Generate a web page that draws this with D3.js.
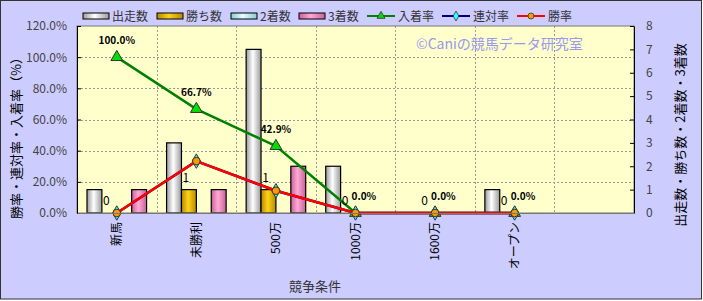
<!DOCTYPE html>
<html>
<head>
<meta charset="utf-8">
<script src="https://cdn.jsdelivr.net/npm/d3@7"></script>
<style>
  body { margin: 0; background: #fff; }
  svg text { font-family: "Noto Sans CJK JP", "DejaVu Sans", sans-serif; }
</style>
</head>
<body>
<svg id="chart"></svg>
<script>
// data
const categories = ["新馬", "未勝利", "500万", "1000万", "1600万", "オープン"];
const runs   = [1, 3, 7, 2, 0, 1];    // 出走数
const wins   = [0, 1, 1, 0, 0, 0];    // 勝ち数
const second = [0, 0, 0, 0, 0, 0];    // 2着数
const third  = [1, 1, 2, 0, 0, 0];    // 3着数
const placeRate = [1.0, 0.667, 0.429, 0, 0, 0];   // 入着率
const rentaiRate = [0, 0.333, 0.143, 0, 0, 0];    // 連対率
const winRate = [0, 0.333, 0.143, 0, 0, 0];       // 勝率
const leftTicks = [0, 0.2, 0.4, 0.6, 0.8, 1.0, 1.2];
const rightTicks = [0, 1, 2, 3, 4, 5, 6, 7, 8];

const W = 703, H = 301;
const plot = {left: 77, right: 634, top: 26, bottom: 213};

const svg = d3.select("#chart").attr("width", W).attr("height", H);

// gradients for the bar look
const defs = svg.append("defs");
function grad(id, edge, mid) {
    const g = defs.append("linearGradient").attr("id", id)
        .attr("x1", "0%").attr("x2", "100%").attr("y1", "0%").attr("y2", "0%");
    g.append("stop").attr("offset", "0%").attr("stop-color", edge);
    g.append("stop").attr("offset", "45%").attr("stop-color", mid);
    g.append("stop").attr("offset", "100%").attr("stop-color", edge);
}
grad("gWhite", "#9a9a9a", "#ffffff");
grad("gGold", "#b58a00", "#ffd21a");
grad("gCyan", "#88cccc", "#e6ffff");
grad("gPink", "#c8609a", "#ffaad4");

// background
svg.append("rect").attr("x", 0.5).attr("y", 0.5).attr("width", W - 2).attr("height", H - 2.5)
    .attr("fill", "#ccccff").attr("stroke", "#333").attr("stroke-width", 1);
svg.append("rect").attr("x", plot.left).attr("y", plot.top)
    .attr("width", plot.right - plot.left).attr("height", plot.bottom - plot.top)
    .attr("fill", "#ffffcc");

const x = d3.scaleBand().domain([...categories, ""]).range([plot.left, plot.right]);
const yL = d3.scaleLinear().domain([0, 1.2]).range([plot.bottom, plot.top]);
const yR = d3.scaleLinear().domain([0, 8]).range([plot.bottom, plot.top]);
const sub = d3.scaleBand().domain([0, 1, 2, 3]).range([10, x.bandwidth() - 10]);
const cx = c => x(c) + x.bandwidth() / 2;

// grid
svg.append("g").selectAll("line").data(leftTicks.slice(1, -1)).join("line")
    .attr("x1", plot.left).attr("x2", plot.right)
    .attr("y1", d => Math.round(yL(d)) + 0.5).attr("y2", d => Math.round(yL(d)) + 0.5)
    .attr("stroke", "#999").attr("stroke-dasharray", "2,2");
svg.append("g").selectAll("line").data(x.domain().slice(1)).join("line")
    .attr("y1", plot.top).attr("y2", plot.bottom)
    .attr("x1", d => Math.round(x(d)) + 0.5).attr("x2", d => Math.round(x(d)) + 0.5)
    .attr("stroke", "#999").attr("stroke-dasharray", "2,2");

// bars
const series = [
    {name: "出走数", values: runs, fill: "url(#gWhite)"},
    {name: "勝ち数", values: wins, fill: "url(#gGold)"},
    {name: "2着数", values: second, fill: "url(#gCyan)"},
    {name: "3着数", values: third, fill: "url(#gPink)"}
];
series.forEach((s, si) => {
    svg.append("g").selectAll("rect")
        .data(categories.map((c, i) => ({c, v: s.values[i]})).filter(d => d.v > 0))
        .join("rect")
        .attr("x", d => x(d.c) + sub(si))
        .attr("width", sub.bandwidth())
        .attr("y", d => yR(d.v))
        .attr("height", d => yR(0) - yR(d.v))
        .attr("fill", s.fill).attr("stroke", "#000").attr("stroke-width", 1.2);
});

// axis frame
svg.append("rect").attr("x", plot.left).attr("y", plot.top)
    .attr("width", plot.right - plot.left).attr("height", plot.bottom - plot.top)
    .attr("fill", "none").attr("stroke", "#777");

// lines
const line = d3.line().x((d, i) => cx(categories[i])).y(d => yL(d));
function drawLine(vals, color, marker, mfill) {
    svg.append("path").datum(vals).attr("d", line)
        .attr("fill", "none").attr("stroke", color).attr("stroke-width", 2.5);
    svg.append("g").selectAll("path").data(vals).join("path")
        .attr("transform", (d, i) => `translate(${cx(categories[i])},${yL(d)})`)
        .attr("d", d3.symbol().type(marker).size(marker === d3.symbolCircle ? 45 : 60))
        .attr("fill", mfill).attr("stroke", "#333").attr("stroke-width", 1);
}
drawLine(placeRate, "#008000", d3.symbolTriangle, "#00dd00");
drawLine(rentaiRate, "#000080", d3.symbolDiamond, "#33ffff");
drawLine(winRate, "#ff0000", d3.symbolCircle, "#ff9900");

// data labels
svg.append("g").selectAll("text").data(placeRate).join("text")
    .attr("x", (d, i) => cx(categories[i]) + (d === 0 ? -4 : 0))
    .attr("y", d => yL(d) - 13)
    .attr("text-anchor", d => d === 0 ? "start" : "middle")
    .attr("font-size", 10).attr("font-weight", "bold")
    .attr("fill", "#000")
    .text(d => d3.format(".1%")(d));
svg.append("g").selectAll("text").data(wins).join("text")
    .attr("x", (d, i) => x(categories[i]) + sub(1) + sub.bandwidth() / 2 - 3)
    .attr("y", d => yR(d) - 8)
    .attr("text-anchor", "middle").attr("font-size", 12).attr("fill", "#000")
    .text(d => d);

// watermark
svg.append("text").attr("x", 416).attr("y", 49).attr("font-size", 14)
    .attr("fill", "#9999ee").text("©Caniの競馬データ研究室");

// axes
const axL = svg.append("g").attr("transform", `translate(${plot.left},0)`)
    .call(d3.axisLeft(yL).tickValues(leftTicks).tickFormat(d3.format(".1%"))
        .tickSizeInner(-4).tickSizeOuter(0).tickPadding(10));
const axR = svg.append("g").attr("transform", `translate(${plot.right},0)`)
    .call(d3.axisRight(yR).tickValues(rightTicks).tickSizeInner(-4).tickSizeOuter(0).tickPadding(12));
const axB = svg.append("g").attr("transform", `translate(0,${plot.bottom})`)
    .call(d3.axisBottom(x).tickValues(categories).tickSize(0));
[axL, axR].forEach(a => {
    a.select(".domain").attr("stroke", "#000");
    a.selectAll(".tick line").attr("stroke", "#000");
    a.selectAll("text").attr("font-size", 12).attr("fill", "#444")
        .attr("font-family", "'Liberation Sans', Arial, sans-serif");
});
axB.select(".domain").attr("stroke", "#777");
axB.selectAll("text").attr("font-size", 12).attr("fill", "#000")
    .attr("text-anchor", "end").attr("dy", "0.35em")
    .attr("transform", "translate(0,9) rotate(-90)").attr("x", 0).attr("y", 0);

// axis titles
svg.append("text").attr("transform", "translate(21,135) rotate(-90)")
    .attr("text-anchor", "middle").attr("font-size", 13).attr("fill", "#000")
    .text("勝率・連対率・入着率（%）");
svg.append("text").attr("transform", "translate(685,135) rotate(-90)")
    .attr("text-anchor", "middle").attr("font-size", 13).attr("fill", "#000")
    .text("出走数・勝ち数・2着数・3着数");
svg.append("text").attr("x", 315).attr("y", 291).attr("text-anchor", "middle")
    .attr("font-size", 13).attr("fill", "#333").text("競争条件");

// legend
const legBars = [
    {name: "出走数", x: 83, fill: "url(#gWhite)"},
    {name: "勝ち数", x: 157, fill: "url(#gGold)"},
    {name: "2着数", x: 231, fill: "url(#gCyan)"},
    {name: "3着数", x: 299, fill: "url(#gPink)"}
];
const legLines = [
    {name: "入着率", x: 367, color: "#008000", marker: d3.symbolTriangle, mfill: "#00dd00"},
    {name: "連対率", x: 442, color: "#000080", marker: d3.symbolDiamond, mfill: "#33ffff"},
    {name: "勝率", x: 517, color: "#ff0000", marker: d3.symbolCircle, mfill: "#ff9900"}
];
const leg = svg.append("g");
legBars.forEach(d => {
    leg.append("rect").attr("x", d.x).attr("y", 13).attr("width", 26).attr("height", 6)
        .attr("fill", d.fill).attr("stroke", "#000");
    leg.append("text").attr("x", d.x + 29).attr("y", 21).attr("font-size", 12)
        .attr("fill", "#333").text(d.name);
});
legLines.forEach(d => {
    leg.append("line").attr("x1", d.x).attr("x2", d.x + 28).attr("y1", 16).attr("y2", 16)
        .attr("stroke", d.color).attr("stroke-width", 2);
    leg.append("path").attr("transform", `translate(${d.x + 14},16)`)
        .attr("d", d3.symbol().type(d.marker).size(28))
        .attr("fill", d.mfill).attr("stroke", "#333").attr("stroke-width", 0.8);
    leg.append("text").attr("x", d.x + 31).attr("y", 21).attr("font-size", 12)
        .attr("fill", "#333").text(d.name);
});
</script>
</body>
</html>
